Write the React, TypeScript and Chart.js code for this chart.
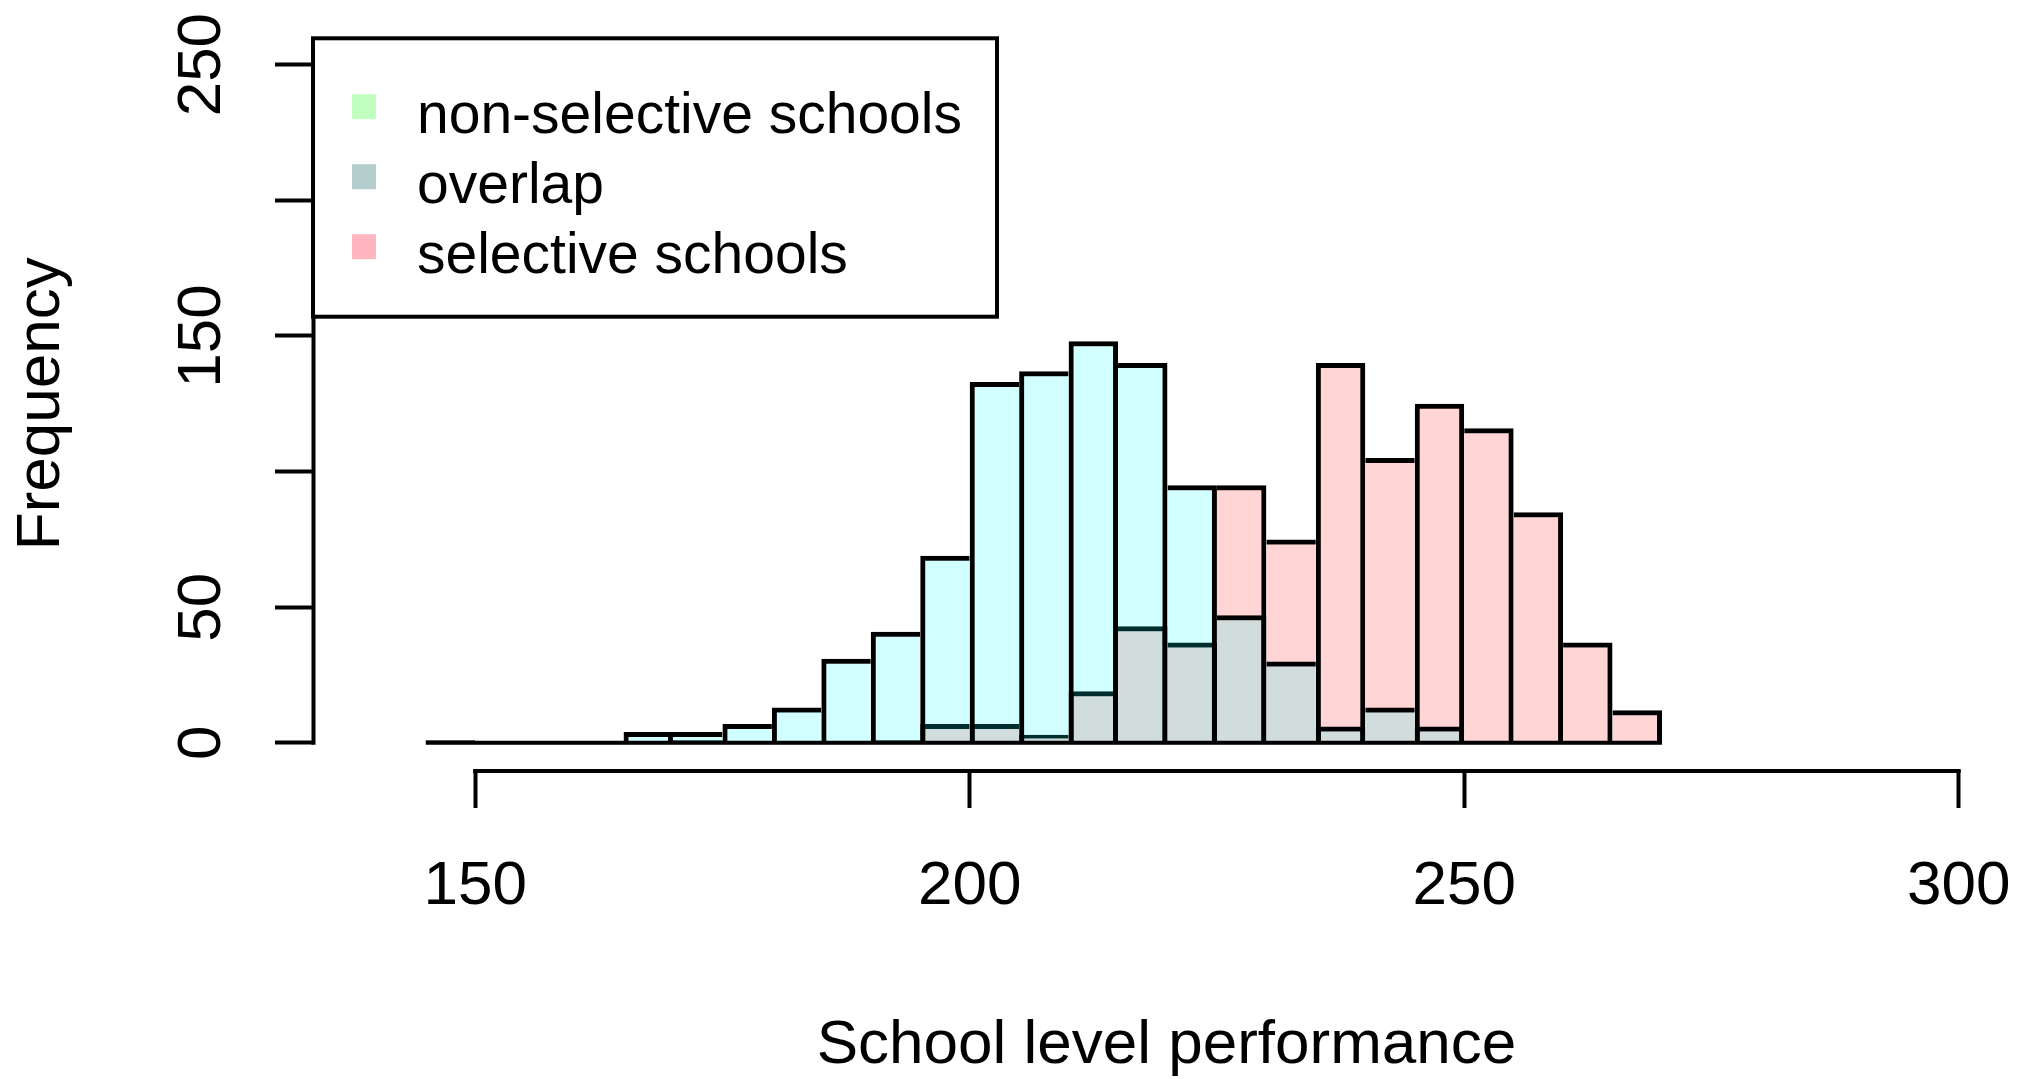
import { useEffect, useRef } from 'react';
import { Chart, registerables } from 'chart.js';

Chart.register(...registerables);

// ---- data ----
const binStarts = [145, 150, 155, 160, 165, 170, 175, 180, 185, 190, 195, 200, 205, 210, 215, 220, 225, 230, 235, 240, 245, 250, 255, 260, 265];
const binWidth = 5;
const nonSelective = [1, 0, 0, 0, 4, 4, 7, 13, 31, 41, 69, 133, 137, 148, 140, 95, 47, 30, 6, 13, 6, 0, 0, 0, 0];
const selective = [0, 0, 0, 0, 0, 1, 0, 0, 0, 1, 7, 7, 3, 19, 43, 37, 95, 75, 140, 105, 125, 116, 85, 37, 12];
const xTicks = [150, 200, 250, 300];
const xTickLabels = ['150', '200', '250', '300'];
const yTicks = [0, 50, 100, 150, 200, 250];
// R dropped the 100 and 200 labels (overlap), tick marks remain
const yTickLabels = ['0', '50', '', '150', '', '250'];
const legendLabels = ['non-selective schools', 'overlap', 'selective schools'];
const legendColors = ['#c1ffc1', '#b4cdcd', '#ffb6c1'];
const xTitle = 'School level performance';
const yTitle = 'Frequency';

const FONT = "'Liberation Sans', Arial, sans-serif";
const LW = 4;
const BAR_LW = 5;

// combined outline height per bin (decides which bar draws each shared edge)
const combined = binStarts.map((_, i) => Math.max(nonSelective[i], selective[i]));

const borderFn = (ctx: any) => {
  const i = ctx.dataIndex;
  if (i === undefined) return BAR_LW;
  const prev = i > 0 ? combined[i - 1] : 0;
  const next = i < combined.length - 1 ? combined[i + 1] : 0;
  return {
    top: BAR_LW,
    bottom: 0,
    left: prev < combined[i] ? BAR_LW : 0,
    right: combined[i] >= next ? BAR_LW : 0,
  };
};

const rStylePlugin = {
  id: 'rStyle',
  afterDraw(chart: any) {
    const { ctx, chartArea, scales } = chart;
    const xs = scales.x;
    const ys = scales.y;
    ctx.save();
    ctx.strokeStyle = '#000';
    ctx.lineWidth = LW;
    ctx.lineCap = 'butt';
    // x axis line (R style: only between first and last tick)
    const yAx = chartArea.bottom + 1;
    ctx.beginPath();
    ctx.moveTo(xs.getPixelForValue(xTicks[0]) - 2, yAx);
    ctx.lineTo(xs.getPixelForValue(xTicks[xTicks.length - 1]) + 2, yAx);
    ctx.stroke();
    // y axis line
    const xAx = chartArea.left + 0.5;
    ctx.beginPath();
    ctx.moveTo(xAx, ys.getPixelForValue(yTicks[0]) + 2);
    ctx.lineTo(xAx, ys.getPixelForValue(yTicks[yTicks.length - 1]) - 2);
    ctx.stroke();

    // legend box (topleft)
    const left = chartArea.left;
    const top = chartArea.top + 0.8;
    const w = 684;
    const h = 278.4;
    ctx.fillStyle = '#fff';
    ctx.fillRect(left, top, w, h);
    ctx.strokeRect(left, top, w, h);
    ctx.font = `57px ${FONT}`;
    ctx.textBaseline = 'alphabetic';
    ctx.textAlign = 'left';
    legendLabels.forEach((label, i) => {
      const cy = top + 68.4 + 70 * i;
      ctx.fillStyle = legendColors[i];
      ctx.fillRect(left + 39, cy - 12.5, 24, 25);
      ctx.fillStyle = '#000';
      ctx.fillText(label, left + 104, top + 95 + 69.8 * i);
    });
    ctx.restore();
  },
};

export default function App() {
  const ref = useRef<HTMLCanvasElement>(null);

  useEffect(() => {
    const canvas = ref.current;
    if (!canvas) return;

    const zeroScalePadding = (s: any) => {
      s.paddingLeft = 0;
      s.paddingRight = 0;
      s.paddingTop = 0;
      s.paddingBottom = 0;
    };

    const chart = new Chart(canvas, {
      type: 'bar',
      data: {
        datasets: [
          {
            type: 'line',
            label: 'baseline',
            data: [
              { x: binStarts[0], y: 0 },
              { x: binStarts[binStarts.length - 1] + binWidth, y: 0 },
            ],
            borderColor: '#000',
            borderWidth: LW,
            pointRadius: 0,
            order: 0,
          } as any,
          {
            label: 'non-selective schools',
            data: binStarts.map((s, i) => ({ x: s + binWidth / 2, y: nonSelective[i] })),
            backgroundColor: 'rgba(0,255,255,0.18)',
            borderColor: '#000',
            borderWidth: borderFn as any,
            borderSkipped: false,
            inflateAmount: 0,
            grouped: false,
            barPercentage: 1,
            categoryPercentage: 1,
            order: 1,
          },
          {
            label: 'selective schools',
            data: binStarts.map((s, i) => ({ x: s + binWidth / 2, y: selective[i] })),
            backgroundColor: 'rgba(255,0,0,0.165)',
            borderColor: '#000',
            borderWidth: borderFn as any,
            borderSkipped: false,
            inflateAmount: 0,
            grouped: false,
            barPercentage: 1,
            categoryPercentage: 1,
            order: 2,
          },
        ] as any,
      },
      options: {
        responsive: false,
        maintainAspectRatio: false,
        devicePixelRatio: 1,
        animation: false,
        layout: { padding: { top: 37.5, left: 0, right: 0, bottom: 0 } },
        plugins: {
          legend: { display: false },
          tooltip: { enabled: false },
          title: { display: false },
        },
        scales: {
          x: {
            type: 'linear',
            min: 133.6,
            max: 306.2,
            offset: false,
            border: { display: false },
            grid: {
              display: true,
              offset: false,
              drawOnChartArea: false,
              tickLength: 38,
              tickWidth: LW,
              tickColor: '#000',
              color: '#000',
            },
            ticks: {
              autoSkip: false,
              minRotation: 0,
              maxRotation: 0,
              padding: 47.5,
              color: '#000',
              font: { family: FONT, size: 62, lineHeight: 1 },
              callback: (v: any) => {
                const i = xTicks.indexOf(Number(v));
                return i >= 0 ? xTickLabels[i] : '';
              },
            },
            afterBuildTicks: (s: any) => {
              s.ticks = xTicks.map((v) => ({ value: v }));
            },
            afterFit: (s: any) => {
              s.height = 309;
              zeroScalePadding(s);
            },
            title: {
              display: true,
              text: xTitle,
              color: '#000',
              font: { family: FONT, size: 62, lineHeight: 1 },
              padding: { top: 0, bottom: 2.5 },
            },
          },
          y: {
            type: 'linear',
            min: -10,
            max: 260,
            border: { display: false },
            grid: {
              display: true,
              drawOnChartArea: false,
              tickLength: 38,
              tickWidth: LW,
              tickColor: '#000',
              color: '#000',
            },
            ticks: {
              autoSkip: false,
              minRotation: 90,
              maxRotation: 90,
              crossAlign: 'center',
              padding: 20,
              color: '#000',
              font: { family: FONT, size: 62, lineHeight: 1 },
              callback: (v: any) => {
                const i = yTicks.indexOf(Number(v));
                return i >= 0 ? yTickLabels[i] : '';
              },
            },
            afterBuildTicks: (s: any) => {
              s.ticks = yTicks.map((v) => ({ value: v }));
            },
            afterFit: (s: any) => {
              s.width = 313;
              zeroScalePadding(s);
            },
            title: {
              display: true,
              text: yTitle,
              color: '#000',
              font: { family: FONT, size: 62, lineHeight: 1 },
              padding: { top: 11, bottom: 0 },
            },
          },
        },
      } as any,
      plugins: [rStylePlugin],
    });

    return () => chart.destroy();
  }, []);

  return (
    <div style={{ position: 'fixed', left: 0, top: 0, width: 2020, height: 1079, background: '#fff' }}>
      <canvas ref={ref} width={2020} height={1079} style={{ display: 'block', width: 2020, height: 1079 }} />
    </div>
  );
}
